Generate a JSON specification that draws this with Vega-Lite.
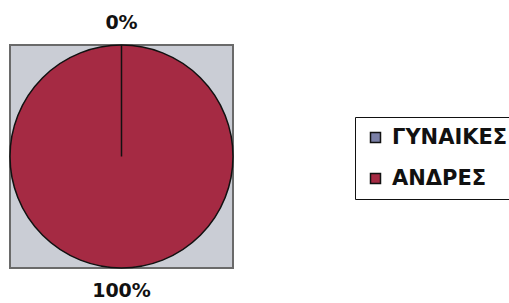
{
  "$schema": "https://vega.github.io/schema/vega-lite/v6.json",
  "width": 223,
  "height": 223,
  "autosize": "none",
  "padding": {"left": 10, "top": 45, "right": 276, "bottom": 35},
  "background": "white",
  "view": {"fill": "#CACDD5", "stroke": "#6A6A6A", "strokeWidth": 2},
  "config": {
    "font": "DejaVu Sans"
  },
  "data": {
    "values": [
      {"sex": "ΑΝΔΡΕΣ", "pct": 1, "o": 2},
      {"sex": "ΓΥΝΑΙΚΕΣ", "pct": 0, "o": 1}
    ]
  },
  "encoding": {
    "theta": {"field": "pct", "type": "quantitative", "stack": true},
    "order": {"field": "o", "type": "quantitative"}
  },
  "layer": [
    {
      "mark": {"type": "arc", "stroke": "#111111", "strokeWidth": 1.5},
      "encoding": {
        "color": {
          "field": "sex",
          "type": "nominal",
          "scale": {"domain": ["ΓΥΝΑΙΚΕΣ", "ΑΝΔΡΕΣ"], "range": ["#7A7FA6", "#A52A43"]},
          "legend": {
            "title": null,
            "orient": "none",
            "legendX": 345,
            "legendY": 72,
            "strokeColor": "#111111",
            "fillColor": "white",
            "padding": 10,
            "rowPadding": 19,
            "symbolType": "square",
            "symbolSize": 100,
            "symbolStrokeColor": "#111111",
            "symbolStrokeWidth": 1.5,
            "symbolOpacity": 1,
            "labelFont": "DejaVu Sans",
            "labelFontSize": 21,
            "labelFontWeight": "bold",
            "labelColor": "#111111",
            "labelOffset": 6,
            "labelLimit": 300,
            "encode": {
              "labels": {"update": {"fontWeight": {"value": "bold"}, "font": {"value": "DejaVu Sans"}}}
            }
          }
        }
      }
    },
    {
      "mark": {"type": "text", "radius": 134, "fontSize": 19, "fontWeight": "bold", "font": "DejaVu Sans", "color": "#111111", "baseline": "middle", "align": "center"},
      "encoding": {
        "text": {"field": "pct", "type": "quantitative", "format": ".0%"}
      }
    }
  ]
}
